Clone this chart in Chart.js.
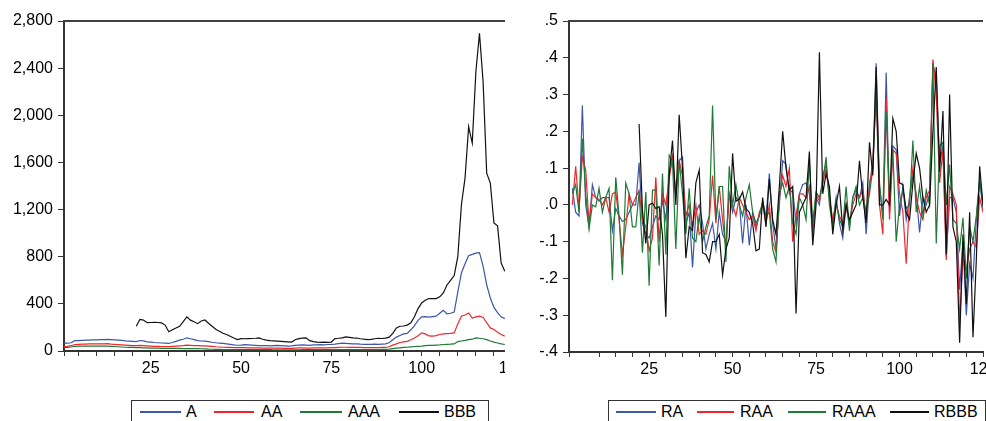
<!DOCTYPE html>
<html>
<head>
<meta charset="utf-8">
<script src="https://cdn.jsdelivr.net/npm/chart.js@4.4.1/dist/chart.umd.min.js"></script>
<style>
  html, body { margin: 0; padding: 0; background: #fff; }
  body { width: 986px; height: 421px; overflow: hidden; position: relative; font-family: "Liberation Sans", Arial, sans-serif; }
  .panel { position: absolute; top: 0; height: 400px; overflow: hidden; }
  .legend { position: absolute; top: 400px; height: 24px; border: 1px solid #333; box-sizing: border-box; }
  .legend .ln { position: absolute; top: 10px; height: 0; border-top: 2px solid; }
  .legend .tx { position: absolute; top: 2px; font-size: 16px; line-height: 18px; color: #000; }
</style>
</head>
<body>
<div class="panel" style="left:0;width:505px"><canvas id="levels" width="530" height="400"></canvas></div>
<div class="panel" style="left:505px;width:481px"><canvas id="returns" width="500" height="400"></canvas></div>

<div class="legend" style="left:131px;width:358px">
  <div class="ln" style="left:8px;width:41px;border-color:#3b57a8"></div><div class="tx" style="left:54px">A</div>
  <div class="ln" style="left:82px;width:40px;border-color:#f0262b"></div><div class="tx" style="left:129px">AA</div>
  <div class="ln" style="left:168px;width:42px;border-color:#1e7a35"></div><div class="tx" style="left:216px">AAA</div>
  <div class="ln" style="left:267px;width:40px;border-color:#111"></div><div class="tx" style="left:312px">BBB</div>
</div>
<div class="legend" style="left:608px;width:378px">
  <div class="ln" style="left:7px;width:40px;border-color:#3b57a8"></div><div class="tx" style="left:52px">RA</div>
  <div class="ln" style="left:88px;width:37px;border-color:#f0262b"></div><div class="tx" style="left:131px">RAA</div>
  <div class="ln" style="left:179px;width:38px;border-color:#1e7a35"></div><div class="tx" style="left:223px">RAAA</div>
  <div class="ln" style="left:281px;width:39px;border-color:#111"></div><div class="tx" style="left:325px">RBBB</div>
</div>

<script>
// observation axis
const xMin = 1;
const xMax = 125;
const xLabelTicks = [25, 50, 75, 100, 125];

// left panel: levels, obs 1..123
const A = [
  66, 66, 70, 88, 88, 90, 92, 93, 94, 95,
  96, 97, 98, 96, 94, 92, 90, 86, 84, 82,
  80, 89, 86, 78, 75, 72, 70, 68, 66, 64,
  72, 82, 92, 100, 112, 104, 96, 88, 85, 84,
  80, 74, 70, 66, 64, 60, 56, 52, 49, 50,
  54, 52, 50, 48, 46, 46, 45, 44, 46, 48,
  46, 44, 42, 44, 48, 50, 52, 50, 48, 52,
  52, 54, 52, 55, 56, 58, 62, 66, 64, 62,
  60, 60, 58, 57, 56, 56, 58, 56, 58, 60,
  70, 96, 118, 132, 145, 150, 180, 215, 260, 290,
  292, 288, 292, 296, 320, 345, 315, 320, 330, 500,
  662, 740, 808, 820, 830, 834, 720, 560, 450, 370,
  326, 290, 275
];
const AA = [
  38, 40, 45, 55, 57, 58, 59, 60, 60, 61,
  61, 61, 62, 58, 56, 54, 52, 50, 48, 46,
  46, 47, 46, 44, 42, 40, 40, 38, 38, 38,
  40, 42, 44, 46, 50, 48, 46, 45, 44, 44,
  42, 40, 36, 34, 32, 30, 30, 29, 28, 28,
  28, 27, 27, 26, 26, 25, 25, 24, 24, 24,
  24, 23, 22, 22, 24, 26, 26, 25, 24, 26,
  26, 26, 26, 27, 28, 28, 30, 32, 32, 30,
  30, 30, 30, 29, 28, 28, 28, 28, 30, 30,
  36, 50, 60, 72, 78, 82, 95, 110, 130, 154,
  145, 128, 126, 130, 140, 145, 148, 150, 154, 230,
  295, 305, 323, 280, 290, 295, 285, 240, 196, 182,
  160, 140, 126
];
const AAA = [
  28, 30, 34, 40, 41, 42, 42, 42, 42, 42,
  42, 42, 42, 40, 38, 36, 34, 32, 30, 30,
  28, 28, 27, 26, 25, 24, 24, 23, 22, 22,
  22, 22, 22, 21, 21, 21, 20, 20, 19, 18,
  16, 15, 14, 13, 12, 12, 12, 12, 12, 12,
  12, 12, 11, 11, 11, 11, 11, 11, 10, 10,
  10, 10, 10, 10, 10, 10, 11, 11, 11, 11,
  11, 11, 11, 11, 11, 12, 12, 12, 12, 12,
  12, 12, 12, 12, 12, 12, 12, 12, 13, 13,
  16, 20, 24, 27, 30, 32, 35, 38, 40, 42,
  45, 47, 48, 50, 52, 55, 57, 58, 60, 80,
  85, 90, 97, 100, 111, 108, 104, 96, 85, 75,
  68, 60, 55
];
const BBB = [
  null, null, null, null, null, null, null, null, null, null,
  null, null, null, null, null, null, null, null, null, null,
  210, 267, 262, 240, 242, 243, 242, 238, 220, 163,
  180, 195, 210, 250, 290, 262, 248, 232, 255, 263,
  235, 210, 185, 168, 150, 140, 125, 110, 97, 105,
  104, 105, 106, 108, 111, 100, 92, 88, 86, 84,
  82, 80, 78, 76, 95, 105, 110, 112, 88, 80,
  76, 74, 75, 74, 76, 105, 108, 112, 120, 116,
  112, 110, 104, 100, 97, 98, 104, 108, 106, 110,
  118, 150, 196, 210, 212, 220, 240, 290, 360, 408,
  430, 445, 445, 445, 460, 493, 560, 600, 640, 800,
  1241, 1467, 1904, 1764, 2370, 2695, 2285, 1509, 1425, 1086,
  1062, 747, 676
];
const levelTicks = [0, 400, 800, 1200, 1600, 2000, 2400, 2800];

// right panel: returns, obs 2..125
const RA = [
  .045, -.02, -.03, .27, .0, -.06, .055, .02, .01, .02,
  .02, .02, -.07, -.01, -.03, -.045, -.04, -.02, .0, .0,
  .115, -.05, -.08, -.09, -.06, -.03, -.04, .01, -.04, .08,
  .13, .02, .12, .13, -.05, -.02, -.17, -.02, .0, -.05,
  -.12, -.08, -.05, -.12, -.02, -.08, -.1, .03, -.02, .02,
  .01, -.105, .0, -.11, -.02, -.06, -.03, .0, -.04, .085,
  -.05, -.12, .0, .12, .11, .03, .04, -.05, .03, .055,
  .06, .03, -.08, .02, .0, .08, .11, .02, -.05, .02,
  -.05, -.09, .0, -.06, .02, .04, .02, .06, -.08, .06,
  .1, .385, .05, -.03, .36, -.02, .16, .15, -.03, .05,
  -.04, .02, .08, .03, -.075, .02, .0, .03, .38, .35,
  .11, .16, -.14, .02, .02, -.02, -.23, -.1, -.3, -.16,
  -.2, -.04, .065, -.01
];
const RAA = [
  .0, .105, -.01, .13, .095, -.05, .03, .02, .015, .0,
  .02, -.02, .03, .035, -.04, -.135, -.06, .03, .0, .02,
  .04, -.04, -.06, -.125, -.09, .075, -.1, .03, .0, .07,
  .13, .03, .12, .08, -.03, .0, -.06, .0, -.08, -.07,
  -.08, -.04, .08, -.05, .05, -.04, -.12, .03, .0, -.03,
  .02, .0, -.02, -.04, -.03, -.07, -.02, .0, -.05, .0,
  -.1, -.13, .02, .08, .05, .1, -.1, -.03, .03, .03,
  .02, .05, -.06, .03, .01, .06, .1, .02, -.04, .0,
  -.03, -.05, .0, -.05, .0, .03, .02, .04, -.03, .05,
  .12, .3, .0, -.08, .29, -.04, .15, .14, .03, -.02,
  -.16, .02, .1, .02, -.02, -.04, .02, .04, .395, .3,
  .06, .15, -.15, .05, .03, .0, -.32, -.14, -.18, -.12,
  -.1, -.115, .02, -.02
];
const RAAA = [
  .03, .055, -.02, .18, .03, -.065, .0, -.005, .045, -.02,
  .02, .045, -.205, .075, -.03, -.19, .06, .03, -.06, -.06,
  .035, -.13, .035, -.22, .04, .04, -.165, .085, -.135, .135,
  .12, -.12, .12, .03, -.08, .045, -.09, -.1, -.03, -.1,
  -.06, -.03, .27, -.04, .05, .05, -.155, .105, .0, .055,
  .0, -.03, .02, .055, -.02, -.05, -.03, .01, -.03, -.02,
  -.12, -.155, .03, .06, .02, .05, -.05, -.08, .02, .0,
  -.04, .12, -.05, .035, .02, .06, .13, .0, -.06, .01,
  -.04, -.06, .05, -.07, .02, .05, .0, .02, -.02, .03,
  .1, .31, .06, -.04, .255, .02, .15, -.1, .0, .04,
  -.01, .0, .175, -.02, .05, -.03, .04, .0, .385, -.105,
  .16, .17, .0, .11, -.04, -.05, -.12, -.035, -.2, -.06,
  -.1, -.03, .07, .0
];
const RBBB = [
  null, null, null, null, null, null, null, null, null, null,
  null, null, null, null, null, null, null, null, null, null,
  .22, -.015, -.105, .0, .005, -.01, -.005, -.08, -.305, .08,
  .175, .0, .245, .1, -.145, -.06, -.07, .06, .095, -.13,
  -.135, -.155, -.1, -.1, -.08, -.19, -.12, -.09, .14, .01,
  .015, .035, -.01, -.02, -.05, -.125, -.12, .02, -.06, .07,
  -.04, -.08, .05, .2, .1, .04, .05, -.295, -.02, .0,
  .02, .145, -.11, .0, .415, .03, .085, .05, -.08, .0,
  .05, -.07, .0, -.04, -.02, .0, .12, .02, -.05, .17,
  .08, .375, .0, .0, .015, .0, .235, .2, .06, .055,
  -.02, -.04, .06, .14, .1, .02, -.02, .0, .2, .375,
  .09, .255, -.135, .3, -.06, -.1, -.375, -.08, -.27, -.02,
  -.36, -.15, .105, .0
];
const returnTicks = [-.4, -.3, -.2, -.1, 0, .1, .2, .3, .4, .5];

const colors = { blue: '#3b57a8', red: '#f0262b', green: '#1e7a35', black: '#111111' };
const FONT = { family: '"Liberation Sans", Arial, sans-serif', size: 16 };

// EViews style frame line on top of the plot
const topBorder = {
  id: 'topBorder',
  afterDraw(chart) {
    const { ctx, chartArea } = chart;
    ctx.save();
    ctx.strokeStyle = '#404040';
    ctx.lineWidth = 2;
    ctx.beginPath();
    ctx.moveTo(chartArea.left - 1, chartArea.top);
    ctx.lineTo(chartArea.right, chartArea.top);
    ctx.stroke();
    ctx.restore();
  }
};

function series(values, firstObs, color, order) {
  return {
    data: values.map((v, k) => ({ x: firstObs + k, y: v })),
    borderColor: color,
    borderWidth: 1.2,
    pointRadius: 0,
    tension: 0,
    fill: false,
    spanGaps: false,
    order: order
  };
}

function makeChart(id, datasets, yTicks, yFormat, yWidth, plotBottom, padRight) {
  const canvas = document.getElementById(id);
  return new Chart(canvas, {
    type: 'line',
    data: { datasets: datasets },
    options: {
      responsive: false,
      animation: false,
      events: [],
      layout: { padding: { top: 21, right: padRight, bottom: 0, left: 0 } },
      plugins: { legend: { display: false }, tooltip: { enabled: false } },
      scales: {
        x: {
          type: 'linear',
          min: xMin,
          max: xMax,
          afterFit: s => { s.height = canvas.height - plotBottom; },
          border: { color: '#333', width: 2 },
          grid: { drawOnChartArea: false, drawTicks: true, tickLength: 5, tickColor: '#333', tickWidth: 1 },
          ticks: {
            stepSize: 5,
            autoSkip: false,
            maxRotation: 0,
            padding: 3,
            color: '#000',
            font: FONT,
            callback: v => xLabelTicks.includes(v) ? String(v) : ''
          }
        },
        y: {
          min: yTicks[0],
          max: yTicks[yTicks.length - 1],
          afterFit: s => { s.width = yWidth; },
          afterBuildTicks: s => { s.ticks = yTicks.map(v => ({ value: v })); },
          border: { color: '#333', width: 2 },
          grid: { drawOnChartArea: false, drawTicks: true, tickLength: 6, tickColor: '#333', tickWidth: 1 },
          ticks: { padding: 5, color: '#000', font: FONT, callback: yFormat }
        }
      }
    },
    plugins: [topBorder]
  });
}

makeChart('levels', [
  series(A, 1, colors.blue, 4),
  series(AA, 1, colors.red, 3),
  series(AAA, 1, colors.green, 2),
  series(BBB, 1, colors.black, 1)
], levelTicks, v => v.toLocaleString('en-US'), 64, 351, 18);

makeChart('returns', [
  series(RA, 2, colors.blue, 4),
  series(RAA, 2, colors.red, 3),
  series(RAAA, 2, colors.green, 2),
  series(RBBB, 2, colors.black, 1)
], returnTicks, v => (Math.round(v * 10) / 10).toFixed(1).replace('0.', '.'), 64, 352, 22);
</script>
</body>
</html>
